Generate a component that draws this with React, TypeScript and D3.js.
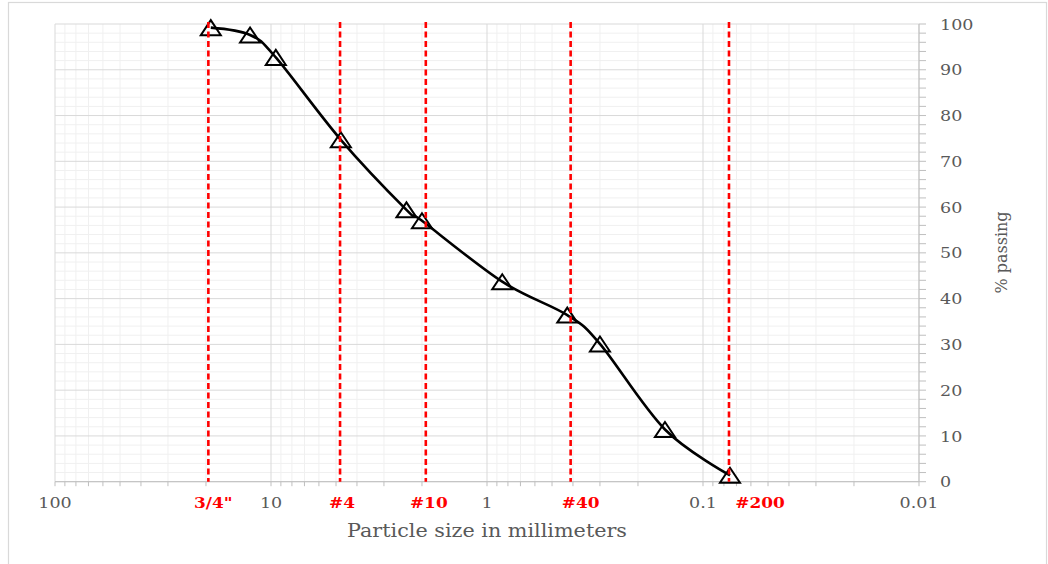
import React from "react";
import * as d3 from "d3";

// ---- data ----
const sizesMm = [19, 12.5, 9.5, 4.75, 2.36, 2.0, 0.85, 0.425, 0.3, 0.15, 0.075];
const percentPassing = [99.2, 97.6, 92.7, 74.7, 59.4, 57.0, 43.7, 36.4, 30.1, 11.4, 1.4];
const sieveNames = ['3/4"', "#4", "#10", "#40", "#200"];
const sieveLineSizes = [19.5, 4.79, 1.92, 0.41, 0.0758];
const xTickValues = [100, 10, 1, 0.1, 0.01];
const xTickLabels = ["100", "10", "1", "0.1", "0.01"];
const yTickValues = [0, 10, 20, 30, 40, 50, 60, 70, 80, 90, 100];
const xTitle = "Particle size in millimeters";
const yTitle = "% passing";

const W = 1048;
const H = 564;
const L = 55, R = 919, T = 24, B = 481.7;
const FONT = "'DejaVu Serif', serif";
const labelDx = [5, 2, 3, 10, 31];
const SX = 1.13;

function SText(props: {
  x: number; y: number; sx?: number; anchor?: string; size: number; fill: string;
  bold?: boolean; dy?: string; children: React.ReactNode;
}) {
  const { x, y, sx = SX, anchor = "middle", size, fill, bold, dy, children } = props;
  return (
    <g transform={`translate(${x},${y}) scale(${sx},1)`}>
      <text textAnchor={anchor as any} dy={dy} fontFamily={FONT} fontSize={size} fill={fill} fontWeight={bold ? "bold" : "normal"}>
        {children}
      </text>
    </g>
  );
}

export default function App() {
  const x = d3.scaleLog().domain([100, 0.01]).range([L, R]);
  const y = d3.scaleLinear().domain([0, 100]).range([B, T]);

  const minorX: number[] = [];
  const majorX: number[] = [];
  for (let k = -2; k <= 1; k++) {
    for (let m = 1; m <= 9; m++) {
      const v = m * Math.pow(10, k);
      if (m === 1) majorX.push(v);
      else minorX.push(v);
    }
  }
  majorX.push(100);
  const minorY: number[] = [];
  for (let v = 0; v <= 100; v += 2) if (v % 10 !== 0) minorY.push(v);

  const pts = sizesMm.map((s, i) => [x(s), y(percentPassing[i])] as [number, number]);
  const line = d3.line().curve(d3.curveCardinal.tension(0))(pts) || "";
  const tri = (cx: number, cy: number) =>
    `M${cx},${cy - 7.5}L${cx + 10},${cy + 7.5}L${cx - 10},${cy + 7.5}Z`;

  return (
    <svg width={W} height={H} style={{ position: "absolute", left: 0, top: 0 }}>
      <rect x={0} y={0} width={W} height={H} fill="#fff" />
      <rect x={8.5} y={2.5} width={1038} height={H + 10} fill="none" stroke="#d9d9d9" strokeWidth={1.2} />
      {/* minor grid */}
      {minorY.map((v) => (
        <line key={"my" + v} x1={L} x2={R} y1={y(v)} y2={y(v)} stroke="#f0f0f0" strokeWidth={1} />
      ))}
      {minorX.map((v) => (
        <line key={"mx" + v} x1={x(v)} x2={x(v)} y1={T} y2={B} stroke="#f0f0f0" strokeWidth={1} />
      ))}
      {/* major grid */}
      {yTickValues.map((v) => (
        <line key={"gy" + v} x1={L} x2={R} y1={y(v)} y2={y(v)} stroke="#d9d9d9" strokeWidth={1} />
      ))}
      {majorX.map((v) => (
        <line key={"gx" + v} x1={x(v)} x2={x(v)} y1={T} y2={B} stroke="#d9d9d9" strokeWidth={1} />
      ))}
      {/* axes */}
      <line x1={L} x2={R} y1={B} y2={B} stroke="#bfbfbf" strokeWidth={1} />
      <line x1={R} x2={R} y1={T} y2={B} stroke="#bfbfbf" strokeWidth={1} />
      {[...minorX, ...majorX].map((v) => (
        <line key={"tx" + v} x1={x(v)} x2={x(v)} y1={B} y2={B + 4.5} stroke="#bfbfbf" strokeWidth={1} />
      ))}
      {[...minorY, ...yTickValues].map((v) => (
        <line key={"ty" + v} x1={R} x2={R + 7} y1={y(v)} y2={y(v)} stroke="#bfbfbf" strokeWidth={1} />
      ))}
      {xTickValues.map((v, i) => (
        <SText key={"xl" + v} x={x(v)} y={507.5} size={15.5} fill="#595959">
          {xTickLabels[i]}
        </SText>
      ))}
      {yTickValues.map((v) => (
        <SText key={"yl" + v} x={940} y={y(v)} dy="0.36em" anchor="start" size={15.5} fill="#595959">
          {v}
        </SText>
      ))}
      <text x={487} y={536.5} textAnchor="middle" fontFamily={FONT} fontSize={18} fill="#595959"
        textLength={280} lengthAdjust="spacingAndGlyphs">
        {xTitle}
      </text>
      <text
        transform={`translate(1001,252.5) rotate(-90)`}
        textAnchor="middle"
        dy="0.35em"
        fontFamily={FONT}
        fontSize={16}
        fill="#595959"
        textLength={82}
        lengthAdjust="spacingAndGlyphs"
      >
        {yTitle}
      </text>
      {/* curve */}
      <path d={line} fill="none" stroke="#000" strokeWidth={2.6} />
      {pts.map(([cx, cy], i) => (
        <path key={"m" + i} d={tri(cx, cy)} fill="none" stroke="#000" strokeWidth={2} strokeLinejoin="miter" />
      ))}
      {/* sieve lines */}
      {sieveLineSizes.map((s, i) => (
        <line key={"sl" + i} x1={x(s)} x2={x(s)} y1={T - 2} y2={B} stroke="#ff0000" strokeWidth={2.6} strokeDasharray="6,3.5" />
      ))}
      {sieveLineSizes.map((s, i) => (
        <SText key={"sn" + i} x={x(s) + labelDx[i]} y={507.5} size={15} bold fill="#ff0000">
          {sieveNames[i]}
        </SText>
      ))}
    </svg>
  );
}
